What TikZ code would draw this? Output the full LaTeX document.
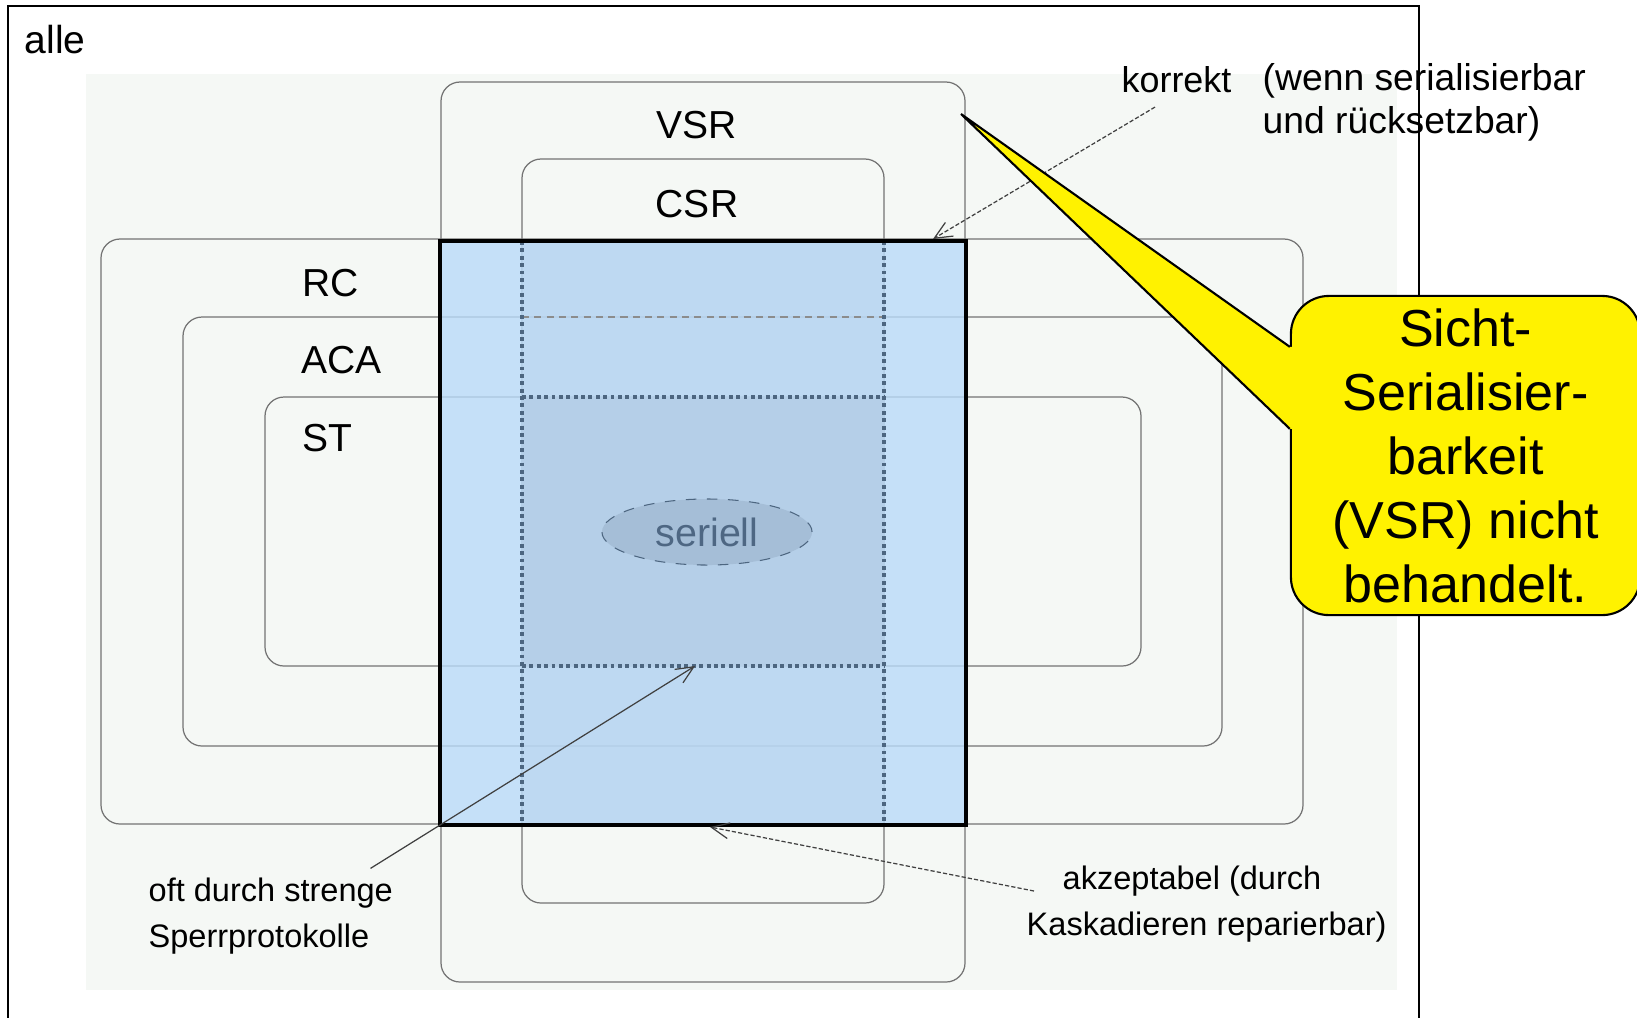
\documentclass[tikz,border=0pt]{standalone}
\usepackage{fontspec}
\setmainfont{Liberation Sans}
\usetikzlibrary{arrows.meta, shapes.geometric}
\definecolor{mygrund}{RGB}{245, 248, 245}
\definecolor{myblau}{RGB}{185, 219, 249}
\definecolor{myband}{RGB}{184, 212, 238}
\definecolor{myinnen}{RGB}{181, 207, 232}
\definecolor{myellipse}{RGB}{165, 190, 215}
\definecolor{mypunkt}{RGB}{77, 102, 128}
\definecolor{myschrift}{RGB}{78, 103, 131}

\begin{document}
\begin{tikzpicture}[
    x = 0.01cm, y = -0.01cm,
    kasten/.style = {draw = black!55, line width = 0.35pt, rounded corners = 0.19cm},
    punkte/.style = {draw = mypunkt, line width = 1pt, dash pattern = on 1.1pt off 1pt},
    etikett/.style = {font = \fontsize{11.1}{13.3}\selectfont, inner sep = 0, anchor = base west},
    anmerkung/.style = {font = \fontsize{9.25}{12.9}\selectfont, inner sep = 0, anchor = base west, align = left},
    pfeil/.style = {-{Straight Barb[length = 5pt, width = 4.5pt]}, line width = 0.35pt, black!75},
    serie/.style = {ellipse, fill = myellipse, draw = mypunkt, dashed, line width = 0.3pt,
        minimum width = 2.1cm, minimum height = 0.66cm, inner sep = 0, text = myschrift,
        font = \fontsize{11.2}{13}\selectfont},
    blase/.style = {draw, fill = yellow, line width = 0.6pt, rounded corners = 0.38cm,
        minimum width = 3.49cm, minimum height = 3.19cm, inner sep = 0, align = center,
        font = \fontsize{14.8}{18.2}\selectfont}
]
\useasboundingbox (0,0) rectangle (1637,1017);

\draw[line width = 0.45pt] (8,6) rectangle (1419,1040);
\fill[mygrund] (86,74) rectangle (1397,990);

% Klassen
\draw[kasten] (441,82) rectangle (965,982);
\draw[kasten] (522,159) rectangle (884,903);
\draw[kasten] (101,239) rectangle (1303,824);
\draw[kasten] (183,317) rectangle (1222,746);
\draw[kasten] (265,397) rectangle (1141,666);

\fill[myblau, fill opacity = 0.8] (440,241) rectangle (966,825);
\fill[myband, fill opacity = 0.5] (522,241) rectangle (884,825);
\fill[myinnen] (522,397) rectangle (884,666);
\draw[black!45, line width = 0.3pt, dash pattern = on 2pt off 1.5pt] (522,317) -- (884,317);
\draw[punkte] (522,241) -- (522,825);
\draw[punkte] (884,241) -- (884,825);
\draw[punkte] (522,397) -- (884,397);
\draw[punkte] (522,666) -- (884,666);
\draw[line width = 1.4pt] (440,241) rectangle (966,825);

\node[serie] (seriell) at (707,532) {seriell};

\node[etikett] (alle) at (24,53) {alle};
\node[etikett, anchor = base] (vsr) at (697,138) {VSR};
\node[etikett, anchor = base] (csr) at (697,217) {CSR};
\node[etikett] (rc) at (302,296) {RC};
\node[etikett] (aca) at (301,373) {ACA};
\node[etikett] (st) at (302,451) {ST};
\node[etikett, font = \fontsize{10.2}{12}\selectfont] (korrekt) at (1121,92) {korrekt};
\node[etikett, font = \fontsize{10.6}{12.2}\selectfont, align = left] (wenn) at (1262,133) {(wenn serialisierbar\\und rücksetzbar)};
\node[anmerkung] (oft) at (148,947) {oft durch strenge\\Sperrprotokolle};
\node[anmerkung] (akz1) at (1062,889) {akzeptabel (durch};
\node[anmerkung] (akz2) at (1026,935) {Kaskadieren reparierbar)};

% Pfeile
\coordinate (korrektspitze) at (933,239);
\coordinate (oftspitze) at (695,666);
\coordinate (akzspitze) at (710,827);
\draw[pfeil, dash pattern = on 1.2pt off 0.6pt] ([shift = {(34,14)}]korrekt.south west) -- (korrektspitze);
\draw[pfeil] ([shift = {(-23,-9)}]oft.north east) -- (oftspitze);
\draw[pfeil, dash pattern = on 1.2pt off 0.6pt] ([shift = {(-28,2)}]akz1.base west) -- (akzspitze);

% Sprechblase
\node[blase] (blase) at (1465.5,455.5) {Sicht-\\Serialisier-\\barkeit\\(VSR) nicht\\behandelt.};
\coordinate (blasenspitze) at (961,114);
\fill[yellow] ([shift = {(0,52)}]blase.north west) -- (blasenspitze) -- ([shift = {(0,134)}]blase.north west)
    -- ([shift = {(3,134)}]blase.north west) -- ([shift = {(3,52)}]blase.north west) -- cycle;
\draw[line width = 0.6pt] ([shift = {(0,52)}]blase.north west) -- (blasenspitze) -- ([shift = {(0,134)}]blase.north west);

\end{tikzpicture}
\end{document}
